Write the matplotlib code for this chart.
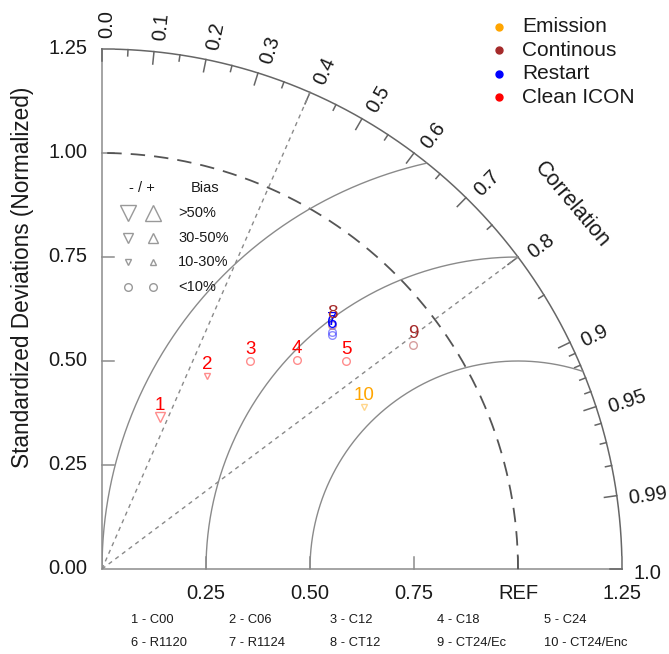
import numpy as np
import matplotlib.pyplot as plt

plt.rcParams['font.family'] = ['Liberation Sans', 'DejaVu Sans']

# experiments, in caption order
run_ids = ['1', '2', '3', '4', '5', '6', '7', '8', '9', '10']
run_names = ['C00', 'C06', 'C12', 'C18', 'C24', 'R1120', 'R1124', 'CT12', 'CT24/Ec', 'CT24/Enc']
run_group = ['Clean ICON', 'Clean ICON', 'Clean ICON', 'Clean ICON', 'Clean ICON',
             'Restart', 'Restart', 'Continous', 'Continous', 'Emission']
std_ratio = [0.391, 0.528, 0.614, 0.687, 0.771, 0.789, 0.794, 0.806, 0.921, 0.740]
correlation = [0.357, 0.478, 0.580, 0.682, 0.761, 0.701, 0.696, 0.686, 0.812, 0.851]
bias_class = ['-30-50', '-10-30', '<10', '<10', '<10', '<10', '<10', '<10', '<10', '-10-30']

groups = ['Emission', 'Continous', 'Restart', 'Clean ICON']
group_colors = {'Emission': '#ffa500', 'Continous': '#a52a2a',
                'Restart': '#0000ff', 'Clean ICON': '#ff0000'}

std_ticks = [0.25, 0.50, 0.75, 1.00, 1.25]
std_left_labels = ['0.00', '0.25', '0.50', '0.75', '1.00', '1.25']
std_bottom_labels = ['0.25', '0.50', '0.75', 'REF', '1.25']
corr_major = [0.0, 0.1, 0.2, 0.3, 0.4, 0.5, 0.6, 0.7, 0.8, 0.9, 0.95, 0.99, 1.0]
corr_labels = ['0.0', '0.1', '0.2', '0.3', '0.4', '0.5', '0.6', '0.7', '0.8', '0.9', '0.95', '0.99', '1.0']
corr_minor = [0.05, 0.15, 0.25, 0.35, 0.45, 0.55, 0.65, 0.75, 0.85,
              0.91, 0.92, 0.93, 0.94, 0.96, 0.97, 0.98]
rms_arcs = [0.5, 0.75, 1.0]
corr_lines = [0.4, 0.8]

bias_legend = ['>50%', '30-50%', '10-30%', '<10%']
bias_style = {'>50': ('v', '^', 11), '30-50': ('v', '^', 6.5), '10-30': ('v', '^', 3.8),
              '<10': ('o', 'o', 5.5)}

RMAX = 1.25
axis_col = '#8c8c8c'
arc_col = '#666666'
txt_col = '#1a1a1a'

fig = plt.figure(figsize=(6.69, 6.54), dpi=100)
ax = fig.add_axes([102 / 669, (654 - 569) / 654, 520 / 669, 520 / 654])
ax.set_xlim(0, RMAX)
ax.set_ylim(0, RMAX)
ax.axis('off')

# frame: left/bottom axes and outer arc
ax.plot([0, 0], [0, RMAX], color=axis_col, lw=1.1, clip_on=False)
ax.plot([0, RMAX], [0, 0], color=axis_col, lw=1.1, clip_on=False)
th = np.linspace(0, np.pi / 2, 400)
ax.plot(RMAX * np.cos(th), RMAX * np.sin(th), color=arc_col, lw=1.1, clip_on=False)

# std ticks
tl = 0.03
for s in std_ticks:
    ax.plot([0, tl], [s, s], color=axis_col, lw=1.1, clip_on=False)
    ax.plot([s, s], [0, tl], color=axis_col, lw=1.1, clip_on=False)
for s, lab in zip([0.0] + std_ticks, std_left_labels):
    ax.text(-0.035, s, lab, ha='right', va='center', fontsize=14.5, color=txt_col)
for s, lab in zip(std_ticks, std_bottom_labels):
    ax.text(s, -0.035, lab, ha='center', va='top', fontsize=14.5, color=txt_col)

# correlation ticks and labels
for c, lab in zip(corr_major, corr_labels):
    a = np.arccos(c)
    ax.plot([(RMAX - tl) * np.cos(a), RMAX * np.cos(a)],
            [(RMAX - tl) * np.sin(a), RMAX * np.sin(a)], color=arc_col, lw=1.1, clip_on=False)
    lx = 1.277 * np.cos(a) + 0.012 * np.sin(a)
    ly = 1.277 * np.sin(a) - 0.012 * np.cos(a)
    ax.text(lx, ly, lab, rotation=np.degrees(a),
            rotation_mode='anchor', ha='left', va='center', fontsize=14.5, color=txt_col)
for c in corr_minor:
    a = np.arccos(c)
    ax.plot([(RMAX - 0.015) * np.cos(a), RMAX * np.cos(a)],
            [(RMAX - 0.015) * np.sin(a), RMAX * np.sin(a)], color=arc_col, lw=1.1, clip_on=False)
ax.text(1.13, 0.875, 'Correlation', rotation=-50, ha='center', va='center',
        fontsize=15.5, color=txt_col)

# reference std arc (dashed)
ax.plot(np.cos(th), np.sin(th), color='#555555', lw=1.3, dashes=(8, 5))

# centered RMS arcs around REF
phi = np.linspace(0, np.pi, 800)
for r in rms_arcs:
    x = 1 + r * np.cos(phi)
    y = r * np.sin(phi)
    keep = (x >= 0) & (x ** 2 + y ** 2 <= RMAX ** 2)
    ax.plot(x[keep], y[keep], color='#8a8a8a', lw=1.0)

# correlation rays
for c in corr_lines:
    a = np.arccos(c)
    ax.plot([0, RMAX * np.cos(a)], [0, RMAX * np.sin(a)], color='#8a8a8a', lw=1.0, dashes=(3, 3))

# experiments
for rid, g, s, c, b in zip(run_ids, run_group, std_ratio, correlation, bias_class):
    col = group_colors[g]
    a = np.arccos(c)
    x, y = s * np.cos(a), s * np.sin(a)
    key = b.lstrip('-+')
    mk_neg, mk_pos, ms = bias_style[key]
    mk = mk_neg if b.startswith('-') else mk_pos
    ax.plot(x, y, marker=mk, ms=ms, mfc='none', mec=col, mew=1.0, alpha=0.45, ls='none')
    ax.annotate(rid, (x, y), xytext=(0, 5), textcoords='offset points',
                ha='center', va='baseline', fontsize=13.5, color=col)

# bias legend
ax.text(0.096, 0.916, '- / +', ha='center', va='center', fontsize=10.5, color=txt_col)
ax.text(0.248, 0.916, 'Bias', ha='center', va='center', fontsize=10.5, color=txt_col)
for yy, lab, key in zip([0.856, 0.796, 0.738, 0.678], bias_legend, ['>50', '30-50', '10-30', '<10']):
    mk_neg, mk_pos, ms = bias_style[key]
    ax.plot(0.0625, yy, marker=mk_neg, ms=ms, mfc='none', mec='#999999', mew=1.0, ls='none')
    ax.plot(0.1226, yy, marker=mk_pos, ms=ms, mfc='none', mec='#999999', mew=1.0, ls='none')
    ax.text(0.183, yy, lab, ha='left', va='center', fontsize=10.5, color=txt_col)

# group legend (top right)
for i, g in enumerate(groups):
    yy = 1.303 - i * 0.0565
    ax.plot(0.954, yy, marker='o', ms=5, color=group_colors[g], ls='none', clip_on=False)
    ax.text(1.0096, yy, g, ha='left', va='center', fontsize=15, color=txt_col)

# axis title
ax.text(-0.192, 0.70, 'Standardized Deviations (Normalized)', rotation=90,
        ha='center', va='center', fontsize=16.3, color=txt_col)

# caption
cap_x = [131, 229, 330, 437, 544]
for i, (rid, name) in enumerate(zip(run_ids, run_names)):
    px = cap_x[i % 5]
    py = 620 if i < 5 else 643
    fig.text(px / 669, 1 - py / 654, f'{rid} - {name}', ha='left', va='center',
             fontsize=9.3, color=txt_col)

fig.savefig('out.png', dpi=100)
